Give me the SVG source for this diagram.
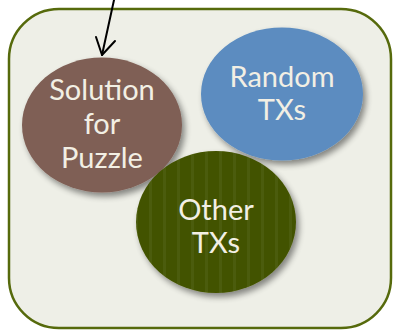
<svg xmlns="http://www.w3.org/2000/svg" width="395" height="331" viewBox="0 0 395 331">
<defs>
<filter id="sh" x="-20%" y="-20%" width="150%" height="150%">
<feGaussianBlur in="SourceAlpha" stdDeviation="3"/>
<feOffset dx="3" dy="4" result="b"/>
<feComponentTransfer><feFuncA type="linear" slope="0.45"/></feComponentTransfer>
<feMerge><feMergeNode/><feMergeNode in="SourceGraphic"/></feMerge>
</filter>
<pattern id="stripes" patternUnits="userSpaceOnUse" width="14" height="10">
<rect width="14" height="10" fill="#435200"/>
<rect x="9" width="3" height="10" fill="#4b5c08"/>
</pattern>
</defs>
<style>
.lbl{font-family:Lato,"Open Sans","Noto Sans",sans-serif;font-size:29px;fill:#f2efe4;text-anchor:middle}
.conn{stroke:#000;stroke-width:2;fill:none;stroke-linecap:round;stroke-linejoin:round}
</style>
<rect x="9" y="9" width="382" height="319" rx="50" ry="50" fill="#eeefe7" stroke="#566a0c" stroke-width="2.5"/>
<g id="random">
<ellipse cx="282" cy="94" rx="81" ry="66.5" fill="#5b8cc0" filter="url(#sh)"/>
<text class="lbl" x="282" y="87">Random</text>
<text class="lbl" x="282" y="120">TXs</text>
</g>
<g id="solution">
<ellipse cx="102" cy="125" rx="80" ry="67.5" fill="#7f5f55" filter="url(#sh)"/>
<text class="lbl" x="102" y="100">Solution</text>
<text class="lbl" x="102" y="134">for</text>
<text class="lbl" x="102" y="168">Puzzle</text>
</g>
<g id="other">
<ellipse cx="216" cy="222" rx="80" ry="71" fill="url(#stripes)" filter="url(#sh)"/>
<text class="lbl" x="216" y="220">Other</text>
<text class="lbl" x="216" y="253">TXs</text>
</g>
<g id="connectors">
<path class="conn" d="M114 0 L102 55"/>
<path class="conn" d="M96 37 L102 55 L115 41"/>
</g>
</svg>
